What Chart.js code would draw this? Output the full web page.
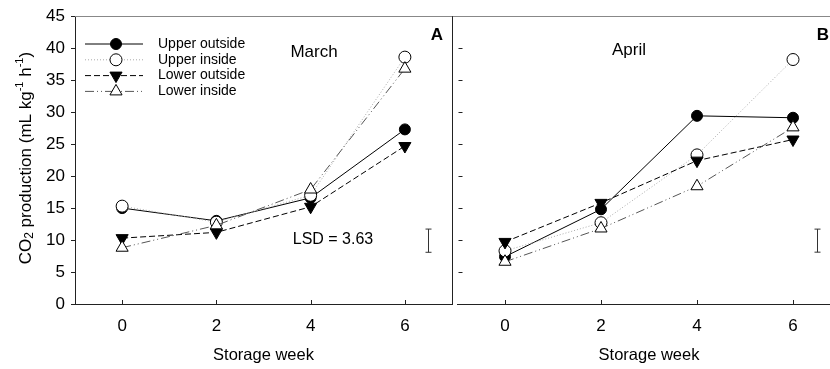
<!DOCTYPE html>
<html>
<head>
<meta charset="utf-8">
<script src="https://cdn.jsdelivr.net/npm/chart.js@4.4.1/dist/chart.umd.min.js"></script>
<style>
  html, body { margin: 0; padding: 0; background: #fff; overflow: hidden; }
  #wrap { position: relative; width: 830px; height: 369px; overflow: hidden; }
  #marchChart { position: absolute; left: 0; top: 0; }
  #aprilChart { position: absolute; left: 440px; top: 0; }
</style>
</head>
<body>
<div id="wrap">
  <canvas id="marchChart" width="460" height="369"></canvas>
  <canvas id="aprilChart" width="420" height="369"></canvas>
</div>
<script>
var weeks = [0, 2, 4, 6];
var seriesNames = ['Upper outside', 'Upper inside', 'Lower outside', 'Lower inside'];

var marchUpperOutside = [15.0, 13.0, 16.6, 27.3];
var marchUpperInside = [15.3, 12.8, 17.0, 38.6];
var marchLowerOutside = [10.3, 11.2, 15.2, 24.7];
var marchLowerInside = [8.8, 12.3, 17.9, 36.8];

var aprilUpperOutside = [7.4, 14.8, 29.4, 29.1];
var aprilUpperInside = [8.3, 12.7, 23.3, 38.2];
var aprilLowerOutside = [9.7, 15.8, 22.4, 25.7];
var aprilLowerInside = [6.6, 11.8, 18.4, 27.6];

var yTicks = [0, 5, 10, 15, 20, 25, 30, 35, 40, 45];

// LSD bars: position (week), centre value and length
var lsdWeek = 6.5;
var lsdCentre = 9.9;
var lsdMarch = 3.63;
var lsdApril = 3.6;

var FONT = "'Liberation Sans', Arial, sans-serif";
var AXIS = '#222';

var styles = [
    { borderColor: '#000', borderDash: [], pointStyle: 'circle', pointRadius: 5.5, pointBackgroundColor: '#000', pointRotation: 0 },
    { borderColor: '#aaa', borderDash: [1, 2], pointStyle: 'circle', pointRadius: 6, pointBackgroundColor: '#fff', pointRotation: 0 },
    { borderColor: '#000', borderDash: [6, 3], pointStyle: 'triangle', pointRadius: 7, pointBackgroundColor: '#000', pointRotation: 180 },
    { borderColor: '#555', borderDash: [9, 3, 1, 3, 1, 3], pointStyle: 'triangle', pointRadius: 7, pointBackgroundColor: '#fff', pointRotation: 0 }
];

function makeDatasets(seriesList) {
    return seriesList.map(function (vals, i) {
        var s = styles[i];
        return {
            label: seriesNames[i],
            data: weeks.map(function (w, j) { return { x: w, y: vals[j] }; }),
            borderColor: s.borderColor,
            borderWidth: 1,
            borderDash: s.borderDash,
            pointStyle: s.pointStyle,
            pointRadius: s.pointRadius,
            pointRotation: s.pointRotation,
            pointBackgroundColor: s.pointBackgroundColor,
            pointBorderColor: '#000',
            pointBorderWidth: 1,
            fill: false,
            tension: 0,
            order: 3 - i
        };
    });
}

function drawMarker(ctx, s, cx, cy) {
    var r = s.pointRadius;
    ctx.save();
    ctx.setLineDash([]);
    ctx.lineWidth = 1;
    ctx.strokeStyle = '#000';
    ctx.fillStyle = s.pointBackgroundColor;
    ctx.beginPath();
    if (s.pointStyle === 'circle') {
        ctx.arc(cx, cy, r, 0, Math.PI * 2);
    } else {
        var d = s.pointRotation === 180 ? -1 : 1;
        ctx.moveTo(cx, cy - d * r);
        ctx.lineTo(cx + 0.866 * r, cy + d * 0.5 * r);
        ctx.lineTo(cx - 0.866 * r, cy + d * 0.5 * r);
        ctx.closePath();
    }
    ctx.fill();
    ctx.stroke();
    ctx.restore();
}

function text(ctx, str, x, y, size, bold, align) {
    ctx.font = (bold ? 'bold ' : '') + size + 'px ' + FONT;
    ctx.fillStyle = '#000';
    ctx.textAlign = align || 'center';
    ctx.textBaseline = 'middle';
    ctx.fillText(str, x, y);
}

var framePlugin = {
    id: 'frame',
    afterDraw: function (chart, args, opts) {
        var ctx = chart.ctx, a = chart.chartArea;
        var xs = chart.scales.x, ys = chart.scales.y;
        ctx.save();
        ctx.lineWidth = 1;
        ctx.setLineDash([]);

        // top border
        ctx.strokeStyle = '#888';
        ctx.beginPath();
        ctx.moveTo(a.left, Math.round(a.top) + 0.5);
        ctx.lineTo(chart.width, Math.round(a.top) + 0.5);
        ctx.stroke();

        ctx.strokeStyle = AXIS;
        // inward x ticks
        weeks.forEach(function (w) {
            var px = Math.round(xs.getPixelForValue(w)) + 0.5;
            ctx.beginPath();
            ctx.moveTo(px, a.bottom);
            ctx.lineTo(px, a.bottom - 4);
            ctx.stroke();
        });

        if (opts.side === 'left') {
            var rx = Math.round(a.right) + 0.5;
            ctx.beginPath();
            ctx.moveTo(rx, a.top);
            ctx.lineTo(rx, a.bottom);
            ctx.stroke();
        } else {
            var lx = Math.round(a.left) + 1.5;
            yTicks.forEach(function (v) {
                if (v === 0 || v === 45) return;
                var py = Math.round(ys.getPixelForValue(v)) + 0.5;
                ctx.beginPath();
                ctx.moveTo(lx, py);
                ctx.lineTo(lx + 4, py);
                ctx.stroke();
            });
        }

        // LSD bar
        var bx = Math.round(xs.getPixelForValue(lsdWeek)) + 0.5;
        var y1 = ys.getPixelForValue(lsdCentre + opts.lsd / 2);
        var y2 = ys.getPixelForValue(lsdCentre - opts.lsd / 2);
        ctx.strokeStyle = '#333';
        ctx.beginPath();
        ctx.moveTo(bx, y1); ctx.lineTo(bx, y2);
        ctx.moveTo(bx - 3, y1); ctx.lineTo(bx + 3, y1);
        ctx.moveTo(bx - 3, y2); ctx.lineTo(bx + 3, y2);
        ctx.stroke();

        // panel labels
        text(ctx, opts.month, opts.monthX, opts.monthY, 17, false);
        text(ctx, opts.letter, opts.letterX, 35, 17, true);

        if (opts.side === 'left') {
            text(ctx, 'LSD = 3.63', 333, 240, 16, false);

            // legend
            chart.data.datasets.forEach(function (ds, i) {
                var s = styles[i];
                var ly = 44 + i * 15.8;
                ctx.save();
                ctx.strokeStyle = s.borderColor;
                ctx.setLineDash(s.borderDash);
                ctx.beginPath();
                ctx.moveTo(85, ly);
                ctx.lineTo(143, ly);
                ctx.stroke();
                ctx.restore();
                drawMarker(ctx, s, 116, ly);
                text(ctx, ds.label, 158, ly, 14, false, 'left');
            });

            // y axis title with sub/superscripts
            var parts = [
                ['CO', 17, 0], ['2', 12, 4], [' production (mL kg', 17, 0], ['-1', 11, -6],
                [' h', 17, 0], ['-1', 11, -6], [')', 17, 0]
            ];
            var total = 0;
            parts.forEach(function (p) {
                ctx.font = p[1] + 'px ' + FONT;
                p.push(ctx.measureText(p[0]).width);
                total += p[3];
            });
            ctx.save();
            ctx.translate(26, (a.top + a.bottom) / 2 - 2);
            ctx.rotate(-Math.PI / 2);
            var cx = -total / 2;
            ctx.fillStyle = '#000';
            ctx.textAlign = 'left';
            ctx.textBaseline = 'middle';
            parts.forEach(function (p) {
                ctx.font = p[1] + 'px ' + FONT;
                ctx.fillText(p[0], cx, p[2]);
                cx += p[3];
            });
            ctx.restore();
        }
        ctx.restore();
    }
};

function xScale() {
    return {
        type: 'linear',
        min: -1,
        max: 7,
        afterBuildTicks: function (s) { s.ticks = weeks.map(function (w) { return { value: w }; }); },
        afterFit: function (s) { s.height = 65; },
        grid: { display: true, drawOnChartArea: false, drawTicks: false },
        border: { color: AXIS, width: 1 },
        ticks: { font: { family: FONT, size: 17 }, color: '#000', padding: 12, maxRotation: 0 },
        title: { display: true, text: 'Storage week', font: { family: FONT, size: 16.5 }, color: '#000', padding: { top: 0, bottom: 4 } }
    };
}

var marchConfig = {
    type: 'line',
    data: {
        datasets: makeDatasets([marchUpperOutside, marchUpperInside, marchLowerOutside, marchLowerInside])
    },
    plugins: [framePlugin],
    options: {
        responsive: false,
        animation: false,
        devicePixelRatio: 1,
        events: [],
        layout: { padding: { left: 0, top: 16, right: 2, bottom: 0 } },
        plugins: {
            legend: { display: false },
            tooltip: { enabled: false },
            frame: { side: 'left', lsd: lsdMarch, month: 'March', monthX: 314, monthY: 52, letter: 'A', letterX: 437 }
        },
        scales: {
            x: xScale(),
            y: {
                min: 0,
                max: 45,
                afterBuildTicks: function (s) { s.ticks = yTicks.map(function (v) { return { value: v }; }); },
                afterFit: function (s) { s.width = 75; },
                grid: { drawOnChartArea: false, drawTicks: true, tickLength: 4, color: AXIS },
                border: { color: AXIS, width: 1 },
                ticks: { font: { family: FONT, size: 17 }, color: '#000', padding: 6 }
            }
        }
    }
};

var aprilConfig = {
    type: 'line',
    data: {
        datasets: makeDatasets([aprilUpperOutside, aprilUpperInside, aprilLowerOutside, aprilLowerInside])
    },
    plugins: [framePlugin],
    options: {
        responsive: false,
        animation: false,
        devicePixelRatio: 1,
        events: [],
        layout: { padding: { left: 17, top: 16, right: 19, bottom: 0 } },
        plugins: {
            legend: { display: false },
            tooltip: { enabled: false },
            frame: { side: 'right', lsd: lsdApril, month: 'April', monthX: 189, monthY: 50, letter: 'B', letterX: 383 }
        },
        scales: {
            x: xScale(),
            y: { display: false, min: 0, max: 45 }
        }
    }
};

window.marchChart = new Chart(document.getElementById('marchChart').getContext('2d'), marchConfig);
window.aprilChart = new Chart(document.getElementById('aprilChart').getContext('2d'), aprilConfig);
</script>
</body>
</html>
